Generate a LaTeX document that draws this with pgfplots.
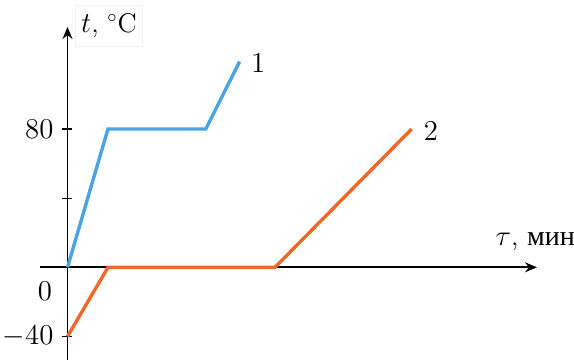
\documentclass[border=0pt]{standalone}
\usepackage{fontspec}
\usepackage{pgfplots}
\pgfplotsset{compat=1.18}
\usetikzlibrary{arrows.meta}
\newfontfamily\cyr{Liberation Serif}
\definecolor{lineblue}{RGB}{74,163,226}
\definecolor{lineorange}{RGB}{240,104,40}

\begin{document}
\begin{tikzpicture}[x=1pt,y=1pt]
\useasboundingbox (0,0) rectangle (287,180);
\begin{axis}[
  at={(20pt,0pt)}, anchor=south west,
  scale only axis, width=248.5pt, height=166.5pt,
  xmin=-15.9, xmax=271.5, ymin=-53.6, ymax=139,
  axis lines=middle,
  axis line style={line width=0.85pt, -{Stealth[length=6pt,width=5pt]}},
  xtick=\empty,
  ytick={-40,40,80}, yticklabels={$-40$,,$80$},
  yticklabel style={xshift=-1pt},
  tick align=center, major tick length=5pt,
  tick style={line width=0.6pt, black},
  font=\fontsize{13.5}{16}\selectfont,
  clip=false,
]
  % heating curves
  \addplot[lineblue, line width=1.7pt] coordinates {(0,0) (23.4,80) (80,80) (99.5,119)};
  \addplot[lineorange, line width=1.7pt] coordinates {(0,-40) (23.4,0) (120,0) (199,80)};

  % axis names and curve numbers
  \node[fill=white, draw=black!5, inner xsep=3pt, inner ysep=4pt] at (axis cs:24,139.6) {$t$, $^\circ$C};
  \node[fill=white, inner sep=2pt] at (axis cs:270.5,14.9) {$\tau$, {\cyr\fontsize{14}{16}\selectfont мин}};
  \node at (axis cs:-13,-13.7) {$0$};
  \node at (axis cs:110.2,118.2) {$1$};
  \node at (axis cs:210.2,78.8) {$2$};
\end{axis}
\end{tikzpicture}
\end{document}
